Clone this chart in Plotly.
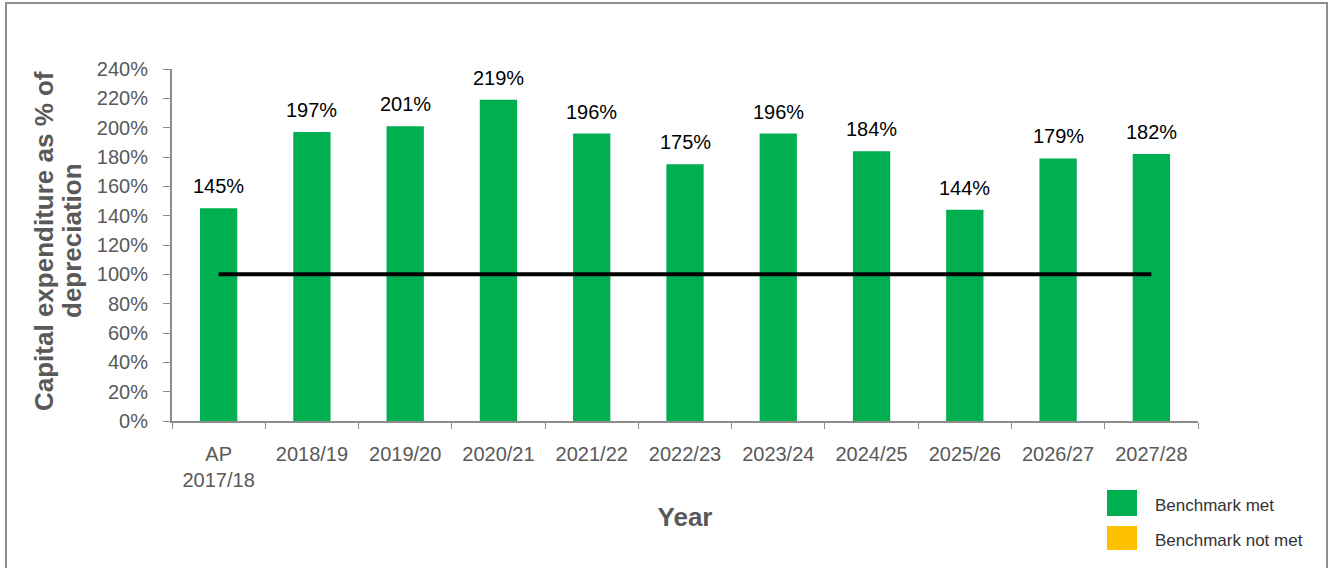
import plotly.graph_objects as go

# Capital expenditure as a share of depreciation, by year
years = ["AP<br>2017/18", "2018/19", "2019/20", "2020/21", "2021/22", "2022/23",
         "2023/24", "2024/25", "2025/26", "2026/27", "2027/28"]
capex_pct = [145, 197, 201, 219, 196, 175, 196, 184, 144, 179, 182]
benchmark = [100] * len(years)
y_ticks = [0, 20, 40, 60, 80, 100, 120, 140, 160, 180, 200, 220, 240]

GREEN = "#00B050"
YELLOW = "#FFC000"
AXIS_GREY = "#8C8C8C"
TEXT_GREY = "#595959"
FONT = "Liberation Sans, Arial, sans-serif"

W, H = 1330, 568
L, R, T, B = 172, 132, 69, 147
pw, ph = W - L - R, H - T - B


def px_x(px):
    return (px - L) / pw


def px_y(py):
    return (H - B - py) / ph


fig = go.Figure()

fig.add_trace(go.Bar(
    x=years, y=capex_pct, marker=dict(color=GREEN, line=dict(width=0)),
    width=0.4, showlegend=False, hoverinfo="x+y",
))

fig.add_trace(go.Scatter(
    x=years, y=benchmark, mode="lines",
    line=dict(color="black", width=4), showlegend=False, hoverinfo="skip",
))

# value labels above each bar
for yr, v in zip(years, capex_pct):
    fig.add_annotation(
        x=yr, y=v, text=f"{v}%", showarrow=False, yanchor="bottom",
        yshift=9, font=dict(family=FONT, size=20, color="black"),
    )

# y-axis title, one rotated line per annotation for tight line spacing
y_title_lines = [("Capital expenditure as % of", 44), ("depreciation", 72)]
for txt, px in y_title_lines:
    fig.add_annotation(
        xref="paper", yref="paper", x=px_x(px), y=px_y(241), text=f"<b>{txt}</b>",
        showarrow=False, textangle=-90, xanchor="center", yanchor="middle",
        font=dict(family=FONT, size=26, color=TEXT_GREY),
    )

shapes = [
    # outer frame
    dict(type="rect", xref="paper", yref="paper",
         x0=px_x(6), x1=px_x(1327), y0=px_y(3), y1=px_y(580),
         line=dict(color="#8E8E8E", width=2), fillcolor="rgba(0,0,0,0)", layer="below"),
    # legend swatches
    dict(type="rect", xref="paper", yref="paper",
         x0=px_x(1107), x1=px_x(1137), y0=px_y(516), y1=px_y(490),
         line=dict(width=0), fillcolor=GREEN),
    dict(type="rect", xref="paper", yref="paper",
         x0=px_x(1107), x1=px_x(1137), y0=px_y(550), y1=px_y(526),
         line=dict(width=0), fillcolor=YELLOW),
]

legend_labels = [("Benchmark met", 505), ("Benchmark not met", 540)]
for txt, py in legend_labels:
    fig.add_annotation(
        xref="paper", yref="paper", x=px_x(1153), y=px_y(py), text=txt,
        showarrow=False, xanchor="left", yanchor="middle",
        font=dict(family=FONT, size=17, color="#333333"),
    )

fig.update_layout(
    width=W, height=H,
    margin=dict(l=L, r=R, t=T, b=B, pad=0),
    paper_bgcolor="white", plot_bgcolor="white",
    font=dict(family=FONT, color=TEXT_GREY),
    shapes=shapes,
    bargap=0.6,
    xaxis=dict(
        type="category", tickson="boundaries", ticks="outside", ticklen=6,
        tickcolor=AXIS_GREY, showline=True, linecolor=AXIS_GREY, linewidth=2,
        showgrid=False, tickfont=dict(family=FONT, size=20, color=TEXT_GREY),
        ticklabelstandoff=14,
        title=dict(text="<b>Year</b>", font=dict(family=FONT, size=26, color=TEXT_GREY),
                   standoff=18),
    ),
    yaxis=dict(
        range=[0, 240], tickvals=y_ticks, ticktext=[f"{v}%" for v in y_ticks],
        ticks="outside", ticklen=7, tickcolor=AXIS_GREY, showline=True,
        linecolor=AXIS_GREY, linewidth=2, showgrid=False, zeroline=False,
        tickfont=dict(family=FONT, size=20, color=TEXT_GREY),
        ticklabelstandoff=11,
    ),
)

fig.write_html("out.html")
